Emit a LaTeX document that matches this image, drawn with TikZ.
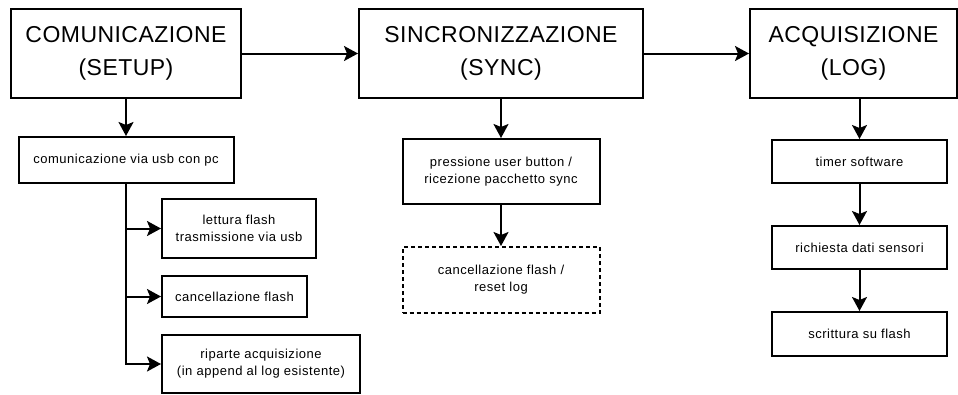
\documentclass[tikz,border=0pt]{standalone}
\usepackage{fontspec}
\setmainfont{Liberation Sans}
\newfontfamily\titlefont[LetterSpace=2]{Liberation Sans}
\newfontfamily\boxfont[LetterSpace=4]{Liberation Sans}
\usetikzlibrary{arrows.meta,positioning}

\tikzset{
 phase/.style={draw, line width=2pt, inner sep=0pt, align=center,
  minimum height=89pt, font=\titlefont\fontsize{23}{33}\selectfont},
 task/.style={draw, line width=2pt, inner sep=0pt, align=center,
  font=\boxfont\fontsize{13}{17}\selectfont},
 opt/.style={task, dash pattern=on 4pt off 3pt},
 link/.style={line width=2pt, -{Stealth[length=14pt,width=15pt,inset=3pt]}}
}

\begin{document}
\begin{tikzpicture}[x=1pt,y=-1pt]
 \useasboundingbox (0,0) rectangle (958,394);

 % phases
 \node (setup) at (126,53.5) [phase, minimum width=230pt] {COMUNICAZIONE\\(SETUP)};
 \node (sync) at (501,53.5) [phase, minimum width=284pt] {SINCRONIZZAZIONE\\(SYNC)};
 \node (log) at (853.5,53.5) [phase, minimum width=207pt] {ACQUISIZIONE\\(LOG)};

 % setup
 \node (usb) at (126,160) [task, minimum width=215pt, minimum height=46pt] {comunicazione via usb con pc};
 \node (s1) at (239,228.5) [task, minimum width=154pt, minimum height=59pt] {lettura flash\\trasmissione via usb};
 \node (s2) at (234.5,296.5) [task, minimum width=145pt, minimum height=41pt] {cancellazione flash};
 \node (s3) at (261,364) [task, minimum width=198pt, minimum height=58pt] {riparte acquisizione\\(in append al log esistente)};

 % sync
 \node (btn) at (501,171.5) [task, minimum width=197pt, minimum height=65pt] {pressione user button /\\ricezione pacchetto sync};
 \node (rst) at (501,280) [opt, minimum width=197pt, minimum height=66pt] {cancellazione flash /\\reset log};

 % log
 \node (l1) at (859.5,161.5) [task, minimum width=175pt, minimum height=43pt] {timer software};
 \node (l2) at (859.5,247.5) [task, minimum width=175pt, minimum height=43pt] {richiesta dati sensori};
 \node (l3) at (859.5,334) [task, minimum width=175pt, minimum height=44pt] {scrittura su flash};

 % connectors
 \draw[link] (setup) -- (sync);
 \draw[link] (sync) -- (log);
 \draw[link] (setup) -- (usb);
 \foreach \x in {1,2,3} {
  \draw[link] (usb.south) |- (s\x.west);
 };
 \draw[link] (sync) -- (btn);
 \draw[link] (btn) -- (rst);
 \draw[link] (l1.north |- log.south) -- (l1);
 \draw[link] (l1) -- (l2);
 \draw[link] (l2) -- (l3);
\end{tikzpicture}
\end{document}
